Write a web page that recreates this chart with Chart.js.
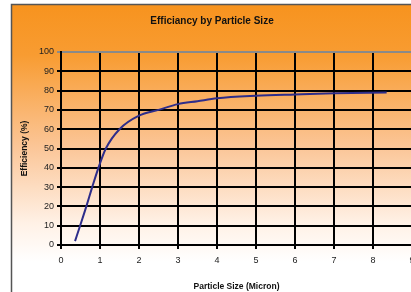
<!DOCTYPE html>
<html>
<head>
<meta charset="utf-8">
<script src="https://cdn.jsdelivr.net/npm/chart.js@4"></script>
<style>
  html, body { margin: 0; padding: 0; background: #fff; overflow: hidden; }
  #wrap { width: 411px; height: 292px; overflow: hidden; }
</style>
</head>
<body>
<div id="wrap"><canvas id="effChart" width="430" height="292"></canvas></div>
<script>
// values
const sizes = [0.36, 0.49, 0.65, 0.8, 0.96, 1.15, 1.5, 2.0, 2.5, 3.0, 3.5, 4.0, 5.0, 6.0, 7.0, 8.35];
const efficiency = [2, 10, 20, 30, 40, 50, 60, 67, 70, 73, 74.5, 76, 77.3, 78, 78.6, 79];
const xTicks = [0, 1, 2, 3, 4, 5, 6, 7, 8, 9];
const yTicks = [0, 10, 20, 30, 40, 50, 60, 70, 80, 90, 100];

const fontFamily = "'Liberation Sans Narrow', 'Liberation Sans', Arial, sans-serif";

const backdrop = {
    id: 'backdrop',
    beforeDraw(chart) {
        const c = chart.ctx;
        c.save();
        c.fillStyle = '#ffffff';
        c.fillRect(0, 0, chart.width, chart.height);
        const g = c.createLinearGradient(0, 4, 0, 262);
        g.addColorStop(0, '#f7931e');
        g.addColorStop(0.2, '#f89c32');
        g.addColorStop(0.55, '#fbc596');
        g.addColorStop(0.85, '#fff1e6');
        g.addColorStop(1, '#ffffff');
        c.fillStyle = g;
        c.fillRect(11, 4, chart.width, chart.height);
        c.strokeStyle = '#555';
        c.lineWidth = 1.5;
        c.beginPath();
        c.moveTo(11.5, chart.height);
        c.lineTo(11.5, 4.5);
        c.lineTo(chart.width, 4.5);
        c.stroke();
        c.restore();
    }
};

const ctx = document.getElementById('effChart').getContext('2d');
new Chart(ctx, {
    type: 'scatter',
    data: {
        datasets: [{
            label: 'Efficiency',
            data: sizes.map((s, i) => ({ x: s, y: efficiency[i] })),
            showLine: true,
            borderColor: '#2e2d8a',
            borderWidth: 2,
            pointRadius: 0,
            cubicInterpolationMode: 'monotone',
            fill: false
        }]
    },
    options: {
        responsive: false,
        animation: false,
        layout: { padding: { left: 12, top: 4, right: 18, bottom: 0 } },
        plugins: {
            legend: { display: false },
            tooltip: { enabled: false },
            title: {
                display: true,
                text: 'Efficiancy by Particle Size',
                color: '#111',
                align: 'center',
                font: { family: fontFamily, size: 10, weight: 'bold' },
                padding: { top: 11, bottom: 25 }
            }
        },
        scales: {
            x: {
                type: 'linear',
                min: 0,
                max: 9,
                afterBuildTicks: axis => { axis.ticks = xTicks.map(v => ({ value: v })); },
                afterFit: axis => { axis.height = 47; },
                border: { color: '#000', width: 2 },
                grid: { color: '#000', lineWidth: 2, tickLength: 4 },
                ticks: {
                    color: '#222',
                    padding: 6,
                    font: { family: fontFamily, size: 9 }
                },
                title: {
                    display: true,
                    text: 'Particle Size (Micron)',
                    color: '#111',
                    font: { family: fontFamily, size: 8.5, weight: 'bold' },
                    padding: { top: 3, bottom: 0 }
                }
            },
            y: {
                min: 0,
                max: 100,
                afterBuildTicks: axis => { axis.ticks = yTicks.map(v => ({ value: v })); },
                afterFit: axis => { axis.width = 49; },
                border: { color: '#000', width: 2 },
                grid: {
                    color: c => (c.tick && c.tick.value === 100 ? '#8a8a8a' : '#000'),
                    lineWidth: 2,
                    tickLength: 4
                },
                ticks: {
                    color: '#222',
                    padding: 3,
                    font: { family: fontFamily, size: 9 }
                },
                title: {
                    display: true,
                    text: 'Efficiency (%)',
                    color: '#111',
                    font: { family: fontFamily, size: 8.5, weight: 'bold' },
                    padding: { top: 8, bottom: 4 }
                }
            }
        }
    },
    plugins: [backdrop]
});
</script>
</body>
</html>
